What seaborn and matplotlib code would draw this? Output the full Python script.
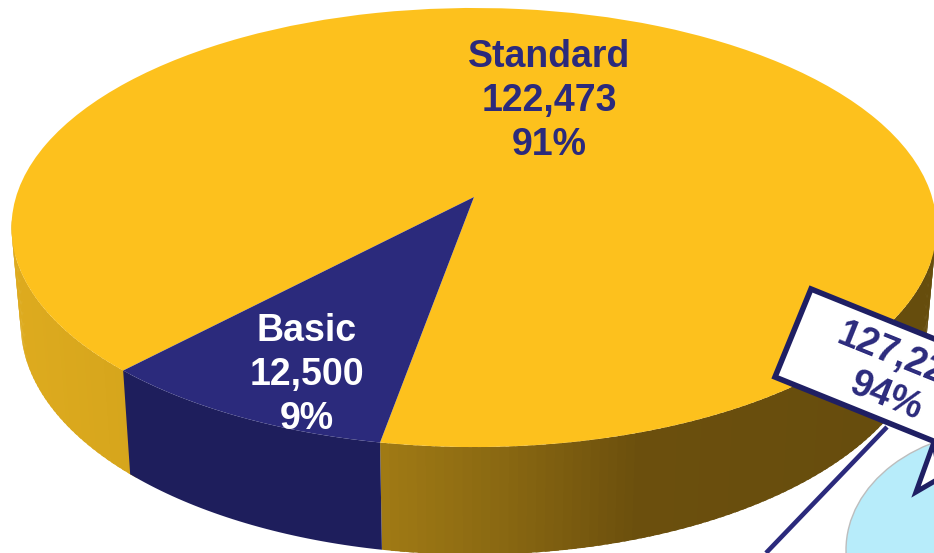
import numpy as np
import matplotlib
matplotlib.use("Agg")
import matplotlib.pyplot as plt
import seaborn as sns
from matplotlib.patches import Ellipse, Polygon
from matplotlib.transforms import Transform

# ── Data ───────────────────────────────────────────────────────────────────────
categories = ['Standard', 'Basic']
values = [122473, 12500]
callout_value = '127,223'
callout_pct = '94%'

# ── Style ──────────────────────────────────────────────────────────────────────
GOLD, NAVY = '#FDC11D', '#2B2A7C'
NAVY_SIDE = '#1E1E5C'
BOX_EDGE = '#1F1F63'
WALL_X = [12, 121, 381, 500, 640, 934]
WALL_RGB = [(0.87, 0.67, 0.12), (0.84, 0.65, 0.11), (0.63, 0.48, 0.08),
            (0.54, 0.41, 0.07), (0.42, 0.31, 0.05), (0.40, 0.30, 0.05)]

sns.set_theme(style='white')
plt.rcParams['font.family'] = ['Liberation Sans', 'DejaVu Sans']

# perspective of the disc, unit circle -> picture pixels
CX, CY, A, B, K = 474, 197, 458, 215.3, 0.139


class DiscPerspective(Transform):
    input_dims = 2
    output_dims = 2
    is_affine = False

    def transform_non_affine(self, xy):
        xy = np.asarray(xy, dtype=float)
        w = 1 + K * xy[:, 1]
        return np.column_stack([CX + A * xy[:, 0] / w, CY - B * xy[:, 1] / w])


disc = DiscPerspective()

fig = plt.figure(figsize=(9.34, 5.53), dpi=100)
ax = fig.add_axes([0, 0, 1, 1])

wedges, _ = ax.pie(values, colors=[GOLD, NAVY], startangle=259.8, radius=1)
for w in wedges:
    w.set_transform(disc + ax.transData)
    w.set_zorder(3)
    w.set_linewidth(0)

ax.set_aspect('auto')
ax.set_xlim(0, 934)
ax.set_ylim(553, 0)
ax.axis('off')


def rim(theta_deg):
    t = np.radians(theta_deg)
    top = disc.transform_non_affine(np.column_stack([np.cos(t), np.sin(t)]))
    bottom = np.column_stack([CX + 0.98 * (top[:, 0] - CX),
                              CY + 95 + 1.05 * (top[:, 1] - CY)])
    return top, bottom


def wall_piece(thetas, col, z):
    top, bottom = rim(np.asarray(thetas))
    ax.add_patch(Polygon(np.vstack([top, bottom[::-1]]), closed=True, facecolor=col,
                         edgecolor='none', linewidth=0, zorder=z))


# ── Side wall ──────────────────────────────────────────────────────────────────
basic_from = wedges[1].theta1 % 360
basic_to = basic_from + (wedges[1].theta2 - wedges[1].theta1)
gold_parts = [np.arange(186, basic_from, 1.0), np.arange(basic_to, 354, 1.0)]
for part in gold_parts:
    for t0 in part:
        # each piece overlaps the next one, so no seams show between them
        ts = np.linspace(t0, t0 + 1.6, 4)
        xm = rim(np.array([t0 + 0.5]))[0][0, 0]
        col = tuple(np.interp(xm, WALL_X, [c[i] for c in WALL_RGB]) for i in range(3))
        wall_piece(ts, col, 2)
wall_piece(np.linspace(basic_from, basic_to, 40), NAVY_SIDE, 2.5)

# ── Labels ─────────────────────────────────────────────────────────────────────
total = sum(values)
label_pos = [(549, 101), (307, 375)]
label_col = [NAVY, 'white']
for name, val, (lx, ly), col in zip(categories, values, label_pos, label_col):
    ax.text(lx, ly, f'{name}\n{val:,}\n{val / total:.0%}', color=col, fontsize=27,
            fontweight='bold', ha='center', va='center', linespacing=1.3, zorder=5)

# ── Second pie (mostly off the picture) and callout ────────────────────────────
ax.add_patch(Ellipse((1004, 550), 316, 240, facecolor='#B7ECFA', edgecolor='#BDBDBD',
                     linewidth=1.0, zorder=1))
ax.plot([887, 766], [427, 553], color=NAVY, linewidth=3.3, zorder=4,
        solid_capstyle='butt')
ax.add_patch(Polygon([(934, 442), (916, 492), (940, 478)], closed=True, facecolor='white',
                     edgecolor=BOX_EDGE, linewidth=3.6, joinstyle='miter', zorder=6))
ax.add_patch(Polygon([(811, 289), (775, 377), (1000, 468), (1036, 380)], closed=True,
                     facecolor='white', edgecolor=BOX_EDGE, linewidth=4.0,
                     joinstyle='miter', zorder=7))
ax.text(894, 378, f'{callout_value}\n{callout_pct}', color=NAVY, fontsize=27,
        fontweight='bold', ha='center', va='center', rotation=-22,
        rotation_mode='anchor', linespacing=1.2, zorder=8)

fig.savefig('out.png', dpi=100)
